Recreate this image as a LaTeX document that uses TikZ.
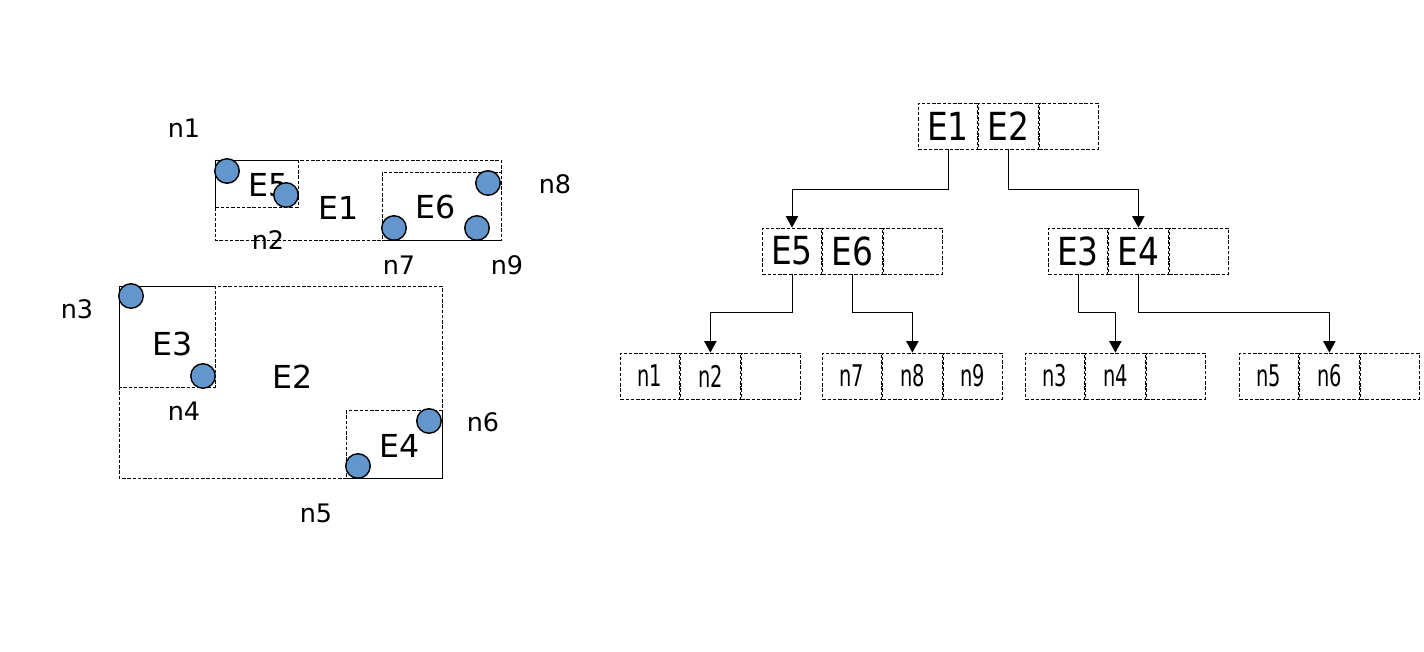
\documentclass[tikz,border=0pt]{standalone}
\usepackage{fontspec}
\setmainfont{DejaVu Sans}
\newfontfamily\treefont[FakeStretch=0.85]{DejaVu Sans}
\newfontfamily\leaffont[FakeStretch=0.65]{DejaVu Sans}
\usepackage{tikz}
\usetikzlibrary{arrows.meta, positioning}
\definecolor{ptblue}{RGB}{98,150,205}

\tikzset{
    box/.style={dash pattern=on 2pt off 1pt, line width=0.5pt},
    pt/.style={circle, draw, fill=ptblue, line width=0.8pt, minimum size=0.49cm, inner sep=0},
    lbl/.style={font=\fontsize{14.5}{14.5}\selectfont},
    ent/.style={font=\fontsize{18}{18}\selectfont},
    cell/.style={draw, box, minimum width=1.19cm, minimum height=0.92cm, inner sep=0,
        font=\treefont\fontsize{22}{22}\selectfont},
    leaf/.style={cell, font=\leaffont\fontsize{17}{17}\selectfont},
    link/.style={-{Triangle[length=6.5pt,width=7pt]}, line width=0.5pt}
}

\begin{document}
\begin{tikzpicture}[x=0.02cm, y=-0.02cm]
        \useasboundingbox (0,0) rectangle (1424,652);

        % rectangles
        \draw[box] (215,160) rectangle (501,240);
        \draw[box] (215,160) rectangle (298,207);
        \draw[box] (382,172) rectangle (501,240);
        \draw[box] (119,286) rectangle (442,478);
        \draw[box] (119,286) rectangle (215,387);
        \draw[box] (346,410) rectangle (442,478);
        \draw[line width=0.5pt] (215,160) -- (215,207);
        \draw[line width=0.5pt] (382,240) -- (501,240);
        \draw[line width=0.5pt] (119,286) -- (119,387);
        \draw[line width=0.5pt] (346,478) -- (442,478) -- (442,410);

        \node[ent] (e5) at (269,185) {E5};
        \node[ent] (e1) at (339,208) {E1};
        \node[ent] (e6) at (436,207) {E6};
        \node[ent] (e3) at (173,344) {E3};
        \node[ent] (e2) at (293,377) {E2};
        \node[ent] (e4) at (400,446) {E4};

        % points
        \node[pt] (p1) at (227,171) {};
        \node[pt] (p2) at (286,195) {};
        \node[pt] (p7) at (394,228) {};
        \node[pt] (p9) at (477,228) {};
        \node[pt] (p8) at (488,183) {};
        \node[pt] (p3) at (131,296) {};
        \node[pt] (p4) at (203,376) {};
        \node[pt] (p6) at (429,421) {};
        \node[pt] (p5) at (358,466) {};

        \node[lbl] (l1) at (184,128) {n1};
        \node[lbl] (l2) at (268,240) {n2};
        \node[lbl] (l8) at (555,184) {n8};
        \node[lbl] (l7) at (399,265) {n7};
        \node[lbl] (l9) at (507,265) {n9};
        \node[lbl] (l3) at (77,309) {n3};
        \node[lbl] (l4) at (184,411) {n4};
        \node[lbl] (l6) at (483,422) {n6};
        \node[lbl] (l5) at (316,513) {n5};

        % tree
        \node[cell] (r1) at (948,126) {E1};
        \node[cell, right=0pt of r1] (r2) {E2};
        \node[cell, right=0pt of r2] (r3) {};

        \node[cell] (a1) at (792,251) {E5};
        \node[cell, right=0pt of a1] (a2) {E6};
        \node[cell, right=0pt of a2] (a3) {};

        \node[cell] (b1) at (1078,251) {E3};
        \node[cell, right=0pt of b1] (b2) {E4};
        \node[cell, right=0pt of b2] (b3) {};

        \node[leaf] (c1) at (650,376) {n1};
        \node[leaf, right=0pt of c1] (c2) {n2};
        \node[leaf, right=0pt of c2] (c3) {};

        \node[leaf] (d1) at (852,376) {n7};
        \node[leaf, right=0pt of d1] (d2) {n8};
        \node[leaf, right=0pt of d2] (d3) {n9};

        \node[leaf] (f1) at (1055,376) {n3};
        \node[leaf, right=0pt of f1] (f2) {n4};
        \node[leaf, right=0pt of f2] (f3) {};

        \node[leaf] (g1) at (1269,376) {n5};
        \node[leaf, right=0pt of g1] (g2) {n6};
        \node[leaf, right=0pt of g2] (g3) {};

        \draw[link] (r1.south) -- ++(0,40) -| (a1.north);
        \draw[link] (r2.south) -- ++(0,40) -| (b2.north);
        \draw[link] (a1.south) -- ++(0,38) -| (c2.north);
        \draw[link] (a2.south) -- ++(0,38) -| (d2.north);
        \draw[link] (b1.south) -- ++(0,38) -| (f2.north);
        \draw[link] (b2.south) -- ++(0,38) -| (g2.north);
    \end{tikzpicture}
\end{document}
